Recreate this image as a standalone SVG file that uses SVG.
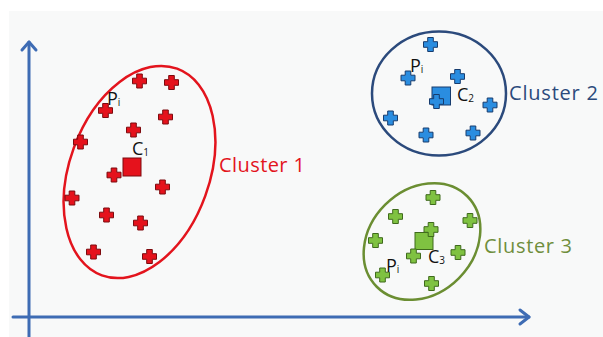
<svg xmlns="http://www.w3.org/2000/svg" width="603" height="337" viewBox="0 0 603 337">
  <defs>
    <style>
      .axis { stroke: #3e6cb4; stroke-width: 3; fill: none; stroke-linecap: round; stroke-linejoin: round; }
      .lbl { font-family: "Open Sans", "Liberation Sans", sans-serif; }
      .pt { font-family: "Open Sans", "Liberation Sans", sans-serif; fill: #111; font-size: 18px; }
      .sub { font-size: 10px; }
      .red { fill: #e5121c; stroke: #7d0a0e; stroke-width: 1; }
      .blue { fill: #2a8de0; stroke: #173c6e; stroke-width: 1; }
      .green { fill: #7fc241; stroke: #3f6a1c; stroke-width: 1; }
    </style>
    <!-- plus-shaped data point, centred on the origin -->
    <path id="plus" d="M-2.8,-7 H2.8 V-2.8 H7 V2.8 H2.8 V7 H-2.8 V2.8 H-7 V-2.8 H-2.8 Z"/>
  </defs>

  <rect width="603" height="337" fill="#ffffff"/>
  <rect x="9" y="11" width="594" height="326" fill="#f8f9f9"/>

  <!-- axes -->
  <g id="connectors">
    <path class="axis" d="M29,337 V42"/>
    <path class="axis" d="M22,50 L29,42 L36,50"/>
    <path class="axis" d="M13,317 H529"/>
    <path class="axis" d="M520,310 L529,317 L520,324"/>
  </g>

  <!-- cluster 1 -->
  <g id="cluster1">
    <ellipse cx="0" cy="0" rx="70" ry="110" transform="translate(139.5,172) rotate(20)" fill="none" stroke="#e3141d" stroke-width="2.5"/>
    <rect class="red" x="123" y="158" width="18" height="18"/>
    <use href="#plus" class="red" x="139.5" y="81"/>
    <use href="#plus" class="red" x="171.5" y="82.5"/>
    <use href="#plus" class="red" x="105.5" y="110.5"/>
    <use href="#plus" class="red" x="165.5" y="117"/>
    <use href="#plus" class="red" x="133.5" y="130"/>
    <use href="#plus" class="red" x="80.5" y="142"/>
    <use href="#plus" class="red" x="114" y="175"/>
    <use href="#plus" class="red" x="162.5" y="187"/>
    <use href="#plus" class="red" x="72" y="198"/>
    <use href="#plus" class="red" x="106.5" y="215"/>
    <use href="#plus" class="red" x="140.5" y="223"/>
    <use href="#plus" class="red" x="93.5" y="252"/>
    <use href="#plus" class="red" x="149.5" y="256.5"/>
    <text class="pt" x="107" y="105">P<tspan class="sub" dy="1">i</tspan></text>
    <text class="pt" x="132" y="155">C<tspan class="sub" dy="1">1</tspan></text>
    <text class="lbl" x="219" y="172" font-size="20" fill="#e3141d" textLength="86" lengthAdjust="spacing">Cluster 1</text>
  </g>

  <!-- cluster 2 -->
  <g id="cluster2">
    <ellipse cx="439" cy="93.5" rx="67" ry="62" fill="none" stroke="#2b4a7c" stroke-width="2.5"/>
    <rect class="blue" x="432" y="87" width="18.5" height="18"/>
    <use href="#plus" class="blue" x="430.5" y="44.5"/>
    <use href="#plus" class="blue" x="408" y="78"/>
    <use href="#plus" class="blue" x="457.5" y="76.5"/>
    <use href="#plus" class="blue" x="436.5" y="101.5"/>
    <use href="#plus" class="blue" x="490" y="105"/>
    <use href="#plus" class="blue" x="390.5" y="118"/>
    <use href="#plus" class="blue" x="426" y="135"/>
    <use href="#plus" class="blue" x="473" y="133"/>
    <text class="pt" x="410" y="72">P<tspan class="sub" dy="1">i</tspan></text>
    <text class="pt" x="457" y="101">C<tspan class="sub" dy="1">2</tspan></text>
    <text class="lbl" x="509" y="100" font-size="20" fill="#2b4a7c" textLength="89" lengthAdjust="spacing">Cluster 2</text>
  </g>

  <!-- cluster 3 -->
  <g id="cluster3">
    <ellipse cx="0" cy="0" rx="64" ry="52" transform="translate(422,241.5) rotate(-45)" fill="none" stroke="#6b8e32" stroke-width="2.5"/>
    <rect class="green" x="415" y="232.5" width="18" height="17"/>
    <use href="#plus" class="green" x="433" y="197.5"/>
    <use href="#plus" class="green" x="395.5" y="216.5"/>
    <use href="#plus" class="green" x="470" y="220.5"/>
    <use href="#plus" class="green" x="431" y="229.5"/>
    <use href="#plus" class="green" x="375.5" y="240.5"/>
    <use href="#plus" class="green" x="413.5" y="256"/>
    <use href="#plus" class="green" x="458" y="252.5"/>
    <use href="#plus" class="green" x="382.5" y="275"/>
    <use href="#plus" class="green" x="431.5" y="283.5"/>
    <text class="pt" x="386" y="272">P<tspan class="sub" dy="1">i</tspan></text>
    <text class="pt" x="428" y="263">C<tspan class="sub" dy="1">3</tspan></text>
    <text class="lbl" x="484" y="253" font-size="20" fill="#6f8e3c" textLength="88" lengthAdjust="spacing">Cluster 3</text>
  </g>
</svg>
